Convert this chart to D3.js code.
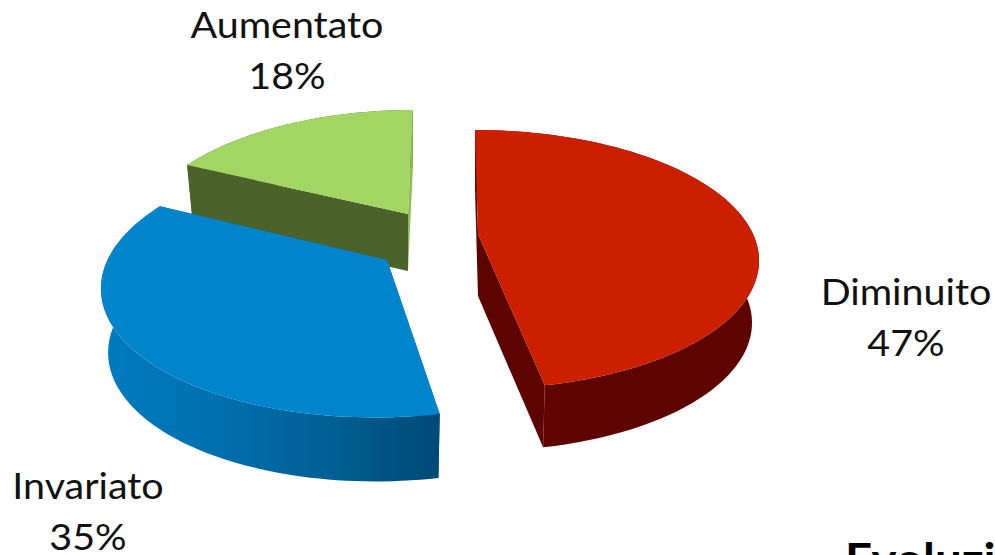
<!DOCTYPE html>
<html><head><meta charset="utf-8">
<script src="https://cdn.jsdelivr.net/npm/d3@7"></script>
<style>html,body{margin:0;padding:0;background:#fff;overflow:hidden}svg{display:block}
text{font-family:Lato,"Open Sans",sans-serif;fill:#111}</style></head>
<body><svg id="c" width="995" height="555"></svg>
<script>
const categories=["Diminuito","Invariato","Aumentato"];
const values=[47,35,18];
const footerText="Evoluzi";
const topColors=["#cc1f00","#0084cb","#a2d564"];
const radialStartColors=["#5e0400","#005f96","#4b6329"];
const radialEndColors=["#5e0400","#005f96","#8fbb55"];
const wallStops=[["#6a0800","#5e0400","#5e0400","#5e0400"],["#007bc0","#0070ae","#005f94","#004a75"],["#4b6329","#4b6329","#4b6329","#4b6329"]];
// slice layout: rim centre, apex corner, radii, perspective
const centerX=[478,387,408],centerY=[234,257,214];
const apexY=[234,260,214];
const radX=[275,278,267],radY=[124.4,129,124.4];
const shear=[-3,12,5],persp=0.196;
const depth=[62,64,57],wallScale=0.975;
const labelX=[906,88,287],labelY=[305,499,38],lineGap=51,labelStretch=1.08;

const svg=d3.select("#c");
const defs=svg.append("defs");
const arcs=d3.pie().sort(null)(values);
const project=(i,t)=>{const u=Math.sin(t),v=Math.cos(t),f=1/(1+persp*v);
  return [centerX[i]+radX[i]*u*f+shear[i]*v, centerY[i]-radY[i]*v*f];};
const lower=(i,p)=>[centerX[i]+(p[0]-centerX[i])*wallScale, p[1]+depth[i]];
const line=d3.line();
[2,0,1].forEach(i=>{
  const a=arcs[i];
  const angle=d3.scaleLinear().domain([0,80]).range([a.startAngle,a.endAngle]);
  const rim=d3.range(0,81).map(k=>project(i,angle(k)));
  const lo=rim.map(p=>lower(i,p));
  const apex=[centerX[i],apexY[i]],apexLo=lower(i,apex);
  const xs=d3.extent(rim.concat(lo),p=>p[0]);
  const g=defs.append("linearGradient").attr("id","w"+i).attr("gradientUnits","userSpaceOnUse")
    .attr("x1",xs[0]).attr("x2",xs[1]).attr("y1",0).attr("y2",0);
  wallStops[i].forEach((c,k)=>g.append("stop").attr("offset",k/(wallStops[i].length-1)).attr("stop-color",c));
  const s=svg.append("g").attr("class","slice").attr("data-name",categories[i]);
  s.append("path").attr("d",line([apex,rim[0],lo[0],apexLo])+"Z").attr("fill",radialStartColors[i]);
  s.append("path").attr("d",line(rim.concat(lo.slice().reverse()))+"Z").attr("fill",`url(#w${i})`);
  s.append("path").attr("d",line([apex,rim[80],lo[80],apexLo])+"Z").attr("fill",radialEndColors[i]);
  s.append("path").attr("d",line([apex].concat(rim))+"Z").attr("fill",topColors[i]);
});
categories.forEach((c,i)=>{
  const t=svg.append("g").attr("transform",`translate(${labelX[i]},${labelY[i]}) scale(${labelStretch},1)`)
    .append("text").attr("text-anchor","middle").attr("font-size",36.5);
  t.append("tspan").attr("x",0).attr("y",0).text(c);
  t.append("tspan").attr("x",0).attr("y",lineGap).text(values[i]+"%");
});
svg.append("g").attr("transform",`translate(845,575) scale(${labelStretch},1)`)
  .append("text").attr("font-size",44).attr("font-weight",700).style("fill","#000").text(footerText);
</script></body></html>
